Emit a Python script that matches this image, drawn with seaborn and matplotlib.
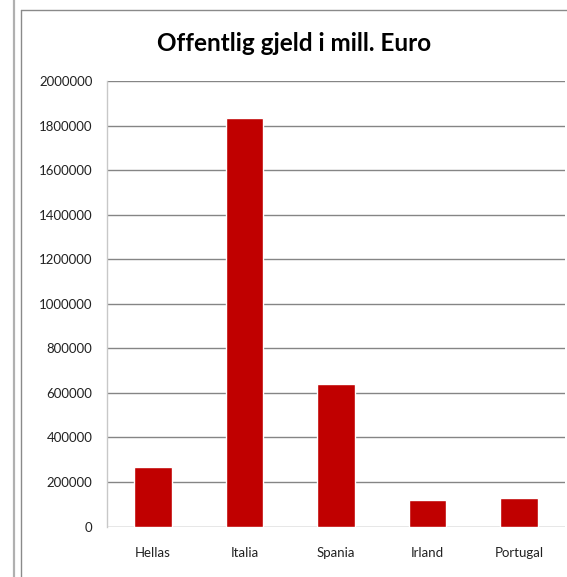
import matplotlib
matplotlib.use("Agg")
import matplotlib.pyplot as plt
from matplotlib.lines import Line2D
import seaborn as sns
import pandas as pd

# Public debt, million euro
countries = ["Hellas", "Italia", "Spania", "Irland", "Portugal"]
debt = [267000, 1835000, 641000, 118000, 127000]
y_ticks = list(range(0, 2000001, 200000))
title = "Offentlig gjeld i mill. Euro"

df = pd.DataFrame({"land": countries, "gjeld": debt})

sns.set_theme(style="white")
plt.rcParams["font.family"] = ["Lato", "DejaVu Sans"]

W, H = 567, 577
fig = plt.figure(figsize=(W / 100, H / 100), dpi=100)
ax = fig.add_axes([107 / W, 1 - 526.5 / H, (565 - 107) / W, (526.5 - 81) / H])

sns.barplot(data=df, x="land", y="gjeld", color="#C00000", saturation=1,
            width=0.41, ax=ax, zorder=3)

ax.set_ylim(0, 2000000)
ax.set_xlim(-0.5, len(countries) - 0.5)
ax.set_yticks(y_ticks)
ax.set_yticklabels([str(v) for v in y_ticks])
ax.set_xlabel("")
ax.set_ylabel("")

ax.yaxis.grid(True, color="#858585", linewidth=1.0, zorder=0)
ax.xaxis.grid(False)
for side in ["top", "right", "bottom"]:
    ax.spines[side].set_visible(False)
ax.spines["left"].set_color("#C8C8C8")
ax.spines["left"].set_linewidth(1.0)

ax.tick_params(axis="y", length=0, pad=10.5, labelsize=9.5, labelcolor="#222222")
ax.tick_params(axis="x", length=0, pad=15, labelsize=9.5, labelcolor="#222222")

fig.text(294 / W, 1 - 43.5 / H, title, ha="center", va="center",
         fontsize=17.5, fontweight="bold", color="black")

# Chart frame lines
fig.add_artist(Line2D([14 / W, 14 / W], [0, 1], transform=fig.transFigure,
                      color="#B0B0B0", linewidth=1.6))
fig.add_artist(Line2D([21 / W, 21 / W], [0, 1 - 10 / H], transform=fig.transFigure,
                      color="#8A8A8A", linewidth=1.0))
fig.add_artist(Line2D([21 / W, 1], [1 - 10 / H, 1 - 10 / H], transform=fig.transFigure,
                      color="#8A8A8A", linewidth=1.0))

fig.savefig("out.png", dpi=100, facecolor="white")
